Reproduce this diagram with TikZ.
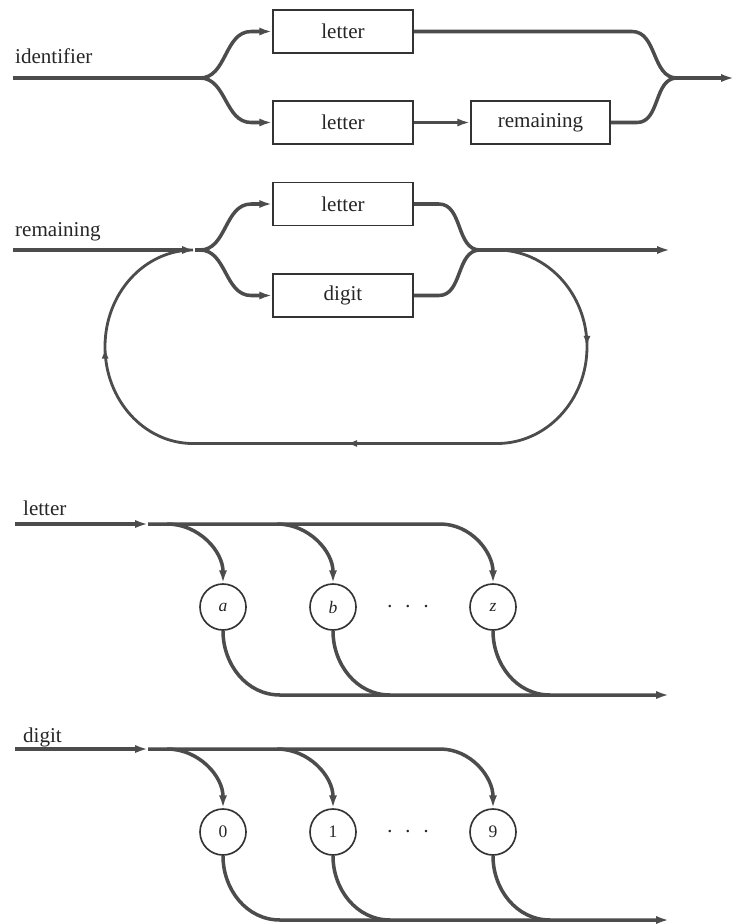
\documentclass[tikz,border=0pt]{standalone}
\usepackage{fontspec}
\setmainfont{Liberation Serif}
\usetikzlibrary{arrows.meta,positioning,decorations.markings}

\begin{document}
\begin{tikzpicture}[x=0.3mm,y=0.3mm,>={Latex[length=11pt,width=7pt]},
  every node/.style={font=\fontsize{18}{21}\selectfont,text=black!85},
  flow/.style={draw=black!70,line width=3pt},
  loopline/.style={draw=black!70,line width=2.4pt},
  synbox/.style={draw=black!80,line width=1.4pt,minimum width=42mm,minimum height=12.9mm,inner sep=2pt},
  term/.style={circle,draw=black!80,line width=1.4pt,minimum size=13.8mm,inner sep=0pt,font=\fontsize{15}{18}\selectfont},
  backtips/.style={postaction={decorate},decoration={markings,
    mark=at position 0.165 with {\arrow{Latex[length=9pt,width=6pt]}},
    mark=at position 0.5 with {\arrow{Latex[length=9pt,width=6pt]}},
    mark=at position 0.835 with {\arrow{Latex[length=9pt,width=6pt]}}}}]
\useasboundingbox (0,0) rectangle (735,-924);

% identifier
\node[anchor=base west] (idlab) at (11,-63) {identifier};
\node[synbox] (idtop) at (343,-31.5) {letter};
\node[synbox] (idlet) at (343,-122.5) {letter};
\node[synbox,minimum width=41.7mm] (idrem) at (540.5,-122.5) {remaining};
\coordinate (idin) at (13,-78);
\coordinate (idsplit) at (200,-78);
\coordinate (idbendt) at (632,-31.5);
\coordinate (idbendb) at (637,-122.5);
\coordinate (idjoin) at (677,-78);
\coordinate (idout) at (734,-78);
\draw[flow] (idin) -- (idsplit);
\draw[flow,->] (idsplit) to[out=0,in=180] ([xshift=-6.3mm]idtop.west) -- (idtop.west);
\draw[flow,->] (idsplit) to[out=0,in=180] ([xshift=-6.3mm]idlet.west) -- (idlet.west);
\draw[flow,->] (idlet) -- (idrem);
\draw[flow] (idtop.east) -- (idbendt) to[out=0,in=180] (idjoin);
\draw[flow] (idrem.east) -- (idbendb) to[out=0,in=180] (idjoin);
\draw[flow,->] (idjoin) -- (idout);

% remaining
\node[anchor=base west] (remlab) at (11,-236) {remaining};
\node[synbox] (remlet) at (343,-204) {letter};
\node[synbox] (remdig) at (343,-295.5) {digit};
\coordinate (remin) at (13,-250);
\coordinate (remtip) at (195,-250);
\coordinate (remsplit) at (200,-250);
\coordinate (remjoin) at (480,-250);
\coordinate (remout) at (670,-250);
\coordinate (loopa) at (497,-250);
\coordinate (loopc) at (193,-443.5);
\draw[flow,->] (remin) -- (remtip);
\draw[flow] (remtip) -- (remsplit);
\draw[flow,->] (remsplit) to[out=0,in=180] ([xshift=-6.3mm]remlet.west) -- (remlet.west);
\draw[flow,->] (remsplit) to[out=0,in=180] ([xshift=-6.3mm]remdig.west) -- (remdig.west);
\draw[flow] (remlet.east) -- ([xshift=7.5mm]remlet.east) to[out=0,in=180] (remjoin);
\draw[flow] (remdig.east) -- ([xshift=7.5mm]remdig.east) to[out=0,in=180] (remjoin);
\draw[flow,->] (remjoin) -- (remout);
\draw[loopline,backtips] (loopa) arc[start angle=90,end angle=-90,x radius=90,y radius=96.75]
  -- (loopc) arc[start angle=270,end angle=90,x radius=88,y radius=96.75];

% letter and digit
\foreach \s/\ytop/\lab/\ta/\tb/\tc/\lift in {let/524/letter/\textit{a}/\textit{b}/\textit{z}/9, dig/749/digit/0/1/9/7}{
\begin{scope}[shift={(0,-\ytop)}]
  \node[anchor=base west] (\s lab) at (19,\lift) {\lab};
  \node[term] (\s1) at (223,-83) {\ta};
  \node[term] (\s2) at (333,-83) {\tb};
  \node (\s dots) at (408,-85) {·\hspace{9.5pt}·\hspace{9.5pt}·};
  \node[term] (\s3) at (493,-83) {\tc};
  \coordinate (\s in) at (15,0);
  \coordinate (\s tip) at (148,0);
  \coordinate (\s fa) at (167,0);
  \coordinate (\s fb) at (277,0);
  \coordinate (\s fc) at (440,0);
  \coordinate (\s ja) at (280,-171);
  \coordinate (\s jb) at (390,-171);
  \coordinate (\s jc) at (550,-171);
  \coordinate (\s out) at (669,-171);
  \draw[flow,->] (\s in) -- (\s tip);
  \draw[flow,->] (\s tip) -- (\s fc) to[out=0,in=90] (\s3.north);
  \draw[flow,->] (\s fa) to[out=0,in=90] (\s1.north);
  \draw[flow,->] (\s fb) to[out=0,in=90] (\s2.north);
  \draw[flow,->] (\s1.south) to[out=-90,in=180] (\s ja) -- (\s out);
  \draw[flow] (\s2.south) to[out=-90,in=180] (\s jb);
  \draw[flow] (\s3.south) to[out=-90,in=180] (\s jc);
\end{scope}
}
\end{tikzpicture}
\end{document}
